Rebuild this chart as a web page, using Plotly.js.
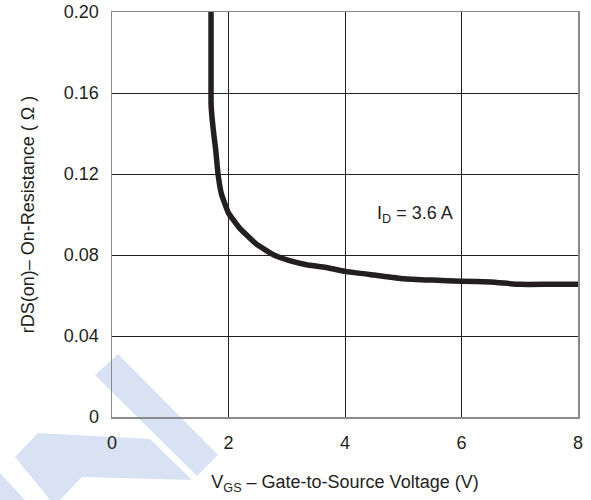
<!DOCTYPE html>
<html>
<head>
<meta charset="utf-8">
<script src="https://cdn.plot.ly/plotly-3.0.1.min.js"></script>
<style>
  html, body { margin: 0; padding: 0; background: #ffffff; }
  #chart { width: 591px; height: 500px; }
</style>
</head>
<body>
<div id="chart"></div>
<script>
// Data (I_D = 3.6 A)
const vgs = [1.70, 1.70, 1.72, 1.75, 1.78, 1.82, 1.88, 2.00, 2.19, 2.48, 2.77, 3.05, 3.34, 3.63, 4.00, 4.50, 5.00, 5.50, 6.00, 6.50, 7.00, 7.50, 8.00];
const rds = [0.200, 0.155, 0.147, 0.139, 0.132, 0.120, 0.110, 0.1007, 0.0933, 0.0854, 0.0801, 0.0772, 0.0752, 0.0741, 0.0719, 0.0701, 0.0683, 0.0676, 0.0670, 0.0667, 0.0655, 0.0655, 0.0655];

const xTickVals = [0, 2, 4, 6, 8];
const xTickText = ["0", "2", "4", "6", "8"];
const yTickVals = [0, 0.04, 0.08, 0.12, 0.16, 0.20];
const yTickText = ["0", "0.04", "0.08", "0.12", "0.16", "0.20"];

const annotationText = "I<sub>D</sub> = 3.6 A";
const xTitle = "V<sub>GS</sub> – Gate-to-Source Voltage (V)";
const yTitle = "rDS(on)– On-Resistance ( Ω )";

const ink = "#231f20";
const FONT = "Liberation Sans, Arial, sans-serif";
const FS = 18;

// Watermark polygons (page pixels) converted to paper coords
const M = {l: 112, r: 13, t: 12, b: 83};
const W = 591, H = 500;
const pw = W - M.l - M.r, ph = H - M.t - M.b;
function toPath(pts) {
  return pts.map((p, i) => (i ? "L" : "M") + ((p[0] - M.l) / pw).toFixed(4) + "," + ((H - M.b - p[1]) / ph).toFixed(4)).join(" ") + " Z";
}
const wm1 = [[95, 375], [118, 354], [218, 455], [197, 476]];
const wm2 = [[38, 433], [150, 439], [192, 480], [82, 477], [60, 500], [50, 500], [15, 457]];
const wm3 = [[0, 473], [25, 500], [0, 500]];
const wmColor = "#d9e2f3";
const shapes = [wm1, wm2, wm3].map(p => ({
  type: "path", xref: "paper", yref: "paper", path: toPath(p),
  fillcolor: wmColor, line: {width: 0}, layer: "below"
}));

const trace = {
  x: vgs, y: rds, type: "scatter", mode: "lines",
  line: {color: ink, width: 5.5, shape: "spline", smoothing: 0.3},
  hoverinfo: "skip", showlegend: false
};

const layout = {
  width: W, height: H,
  margin: M,
  paper_bgcolor: "rgba(0,0,0,0)",
  plot_bgcolor: "rgba(0,0,0,0)",
  font: {family: FONT, size: FS, color: ink},
  showlegend: false,
  shapes: shapes,
  xaxis: {
    range: [0, 8], tickvals: xTickVals, ticktext: xTickText,
    showgrid: true, gridcolor: ink, gridwidth: 1,
    zeroline: false, showline: true, mirror: true,
    linecolor: "#8a8a8a", linewidth: 1.5,
    ticks: "", ticklabelstandoff: 9,
    tickfont: {family: FONT, size: FS, color: ink},
    title: {text: xTitle, font: {family: FONT, size: FS, color: ink}, standoff: 23},
    fixedrange: true
  },
  yaxis: {
    range: [0, 0.20], tickvals: yTickVals, ticktext: yTickText,
    showgrid: true, gridcolor: ink, gridwidth: 1,
    zeroline: false, showline: true, mirror: true,
    linecolor: "#8a8a8a", linewidth: 1.5,
    ticks: "", ticklabelstandoff: 8,
    tickfont: {family: FONT, size: FS, color: ink},
    title: {text: yTitle, font: {family: FONT, size: FS, color: ink}, standoff: 24},
    fixedrange: true
  },
  annotations: [{
    x: 5.2, y: 0.0999, xref: "x", yref: "y",
    text: annotationText, showarrow: false,
    font: {family: FONT, size: FS, color: ink},
    bgcolor: "#ffffff", borderpad: 5
  }]
};

Plotly.newPlot("chart", [trace], layout, {staticPlot: true, displayModeBar: false});
</script>
</body>
</html>
